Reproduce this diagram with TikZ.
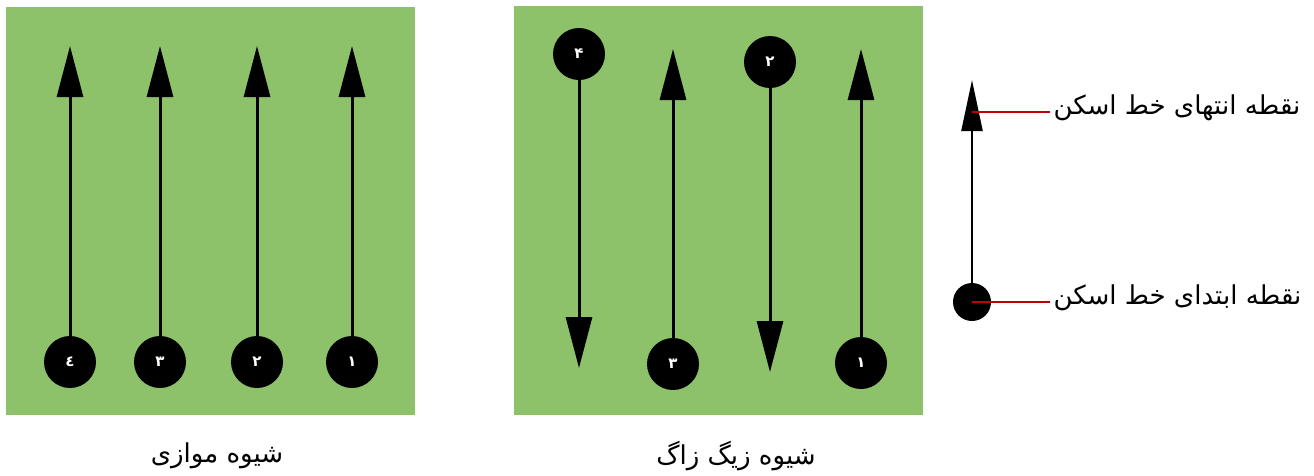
\documentclass[tikz,border=0pt]{standalone}
\usepackage{fontspec}
\usetikzlibrary{arrows.meta}
\TeXXeTstate=1
\newfontfamily\arabicfont[Script=Arabic]{DejaVu Sans}
\definecolor{fieldgreen}{RGB}{141,194,107}
\definecolor{markred}{RGB}{192,0,0}
\tikzset{
  field/.style={fill=fieldgreen, draw=none},
  dot/.style={circle, fill=black, draw=none, minimum size=52pt, inner sep=0pt, text=white, font=\arabicfont\fontsize{15}{15}\selectfont\bfseries},
  legdot/.style={circle, fill=black, draw=none, minimum size=38pt, inner sep=0pt},
  scanline/.style={line width=3pt, -{Triangle[length=51pt,width=26pt]}},
  legline/.style={line width=2.4pt, -{Triangle[length=51pt,width=21pt]}},
  redline/.style={draw=markred, line width=2pt},
  caption/.style={font=\arabicfont\fontsize{26}{30}\selectfont},
  legtext/.style={font=\arabicfont\fontsize{26}{30}\selectfont, anchor=west}
}
\begin{document}
\begin{tikzpicture}[x=1pt,y=-1pt]
\useasboundingbox (0,0) rectangle (1314,475);
% squares
\fill[field] (6,7) rectangle (415,415);
\fill[field] (514,6) rectangle (923,415);
% parallel method
\node[dot] (p1) at (352,362) {\beginR ۱\endR};
\node[dot] (p2) at (257,362) {\beginR ۲\endR};
\node[dot] (p3) at (160,362) {\beginR ۳\endR};
\node[dot] (p4) at (70,362) {\beginR ٤\endR};
\coordinate (pt1) at (352,46);
\coordinate (pt2) at (257,46);
\coordinate (pt3) at (160,46);
\coordinate (pt4) at (70,46);
\draw[scanline] (p1.north) -- (pt1);
\draw[scanline] (p2.north) -- (pt2);
\draw[scanline] (p3.north) -- (pt3);
\draw[scanline] (p4.north) -- (pt4);
% zigzag method
\node[dot] (z1) at (861,363) {\beginR ۱\endR};
\node[dot] (z2) at (770,62) {\beginR ۲\endR};
\node[dot] (z3) at (673,364) {\beginR ۳\endR};
\node[dot] (z4) at (579,54) {\beginR ۴\endR};
\coordinate (zt1) at (861,49);
\coordinate (zt2) at (770,372);
\coordinate (zt3) at (673,49);
\coordinate (zt4) at (579,368);
\draw[scanline] (z1.north) -- (zt1);
\draw[scanline] (z2.south) -- (zt2);
\draw[scanline] (z3.north) -- (zt3);
\draw[scanline] (z4.south) -- (zt4);
% captions
\node[caption] (cap1) at (217,456) {\beginR شیوه موازی\endR};
\node[caption] (cap2) at (736,456) {\beginR شیوه زیگ زاگ\endR};
% legend
\node[legdot] (ls) at (972,302) {};
\coordinate (le) at (972,80);
\draw[legline] (ls.center) -- (le);
\coordinate (lm) at (972,112);
\node[legtext] (tend) at (1050,108) {\beginR نقطه انتهای خط اسکن\endR};
\node[legtext] (tstart) at (1050,298) {\beginR نقطه ابتدای خط اسکن\endR};
\draw[redline] (lm) -- (tend.west |- lm);
\draw[redline] (ls.center) -- (tstart.west |- ls.center);
\end{tikzpicture}
\end{document}
